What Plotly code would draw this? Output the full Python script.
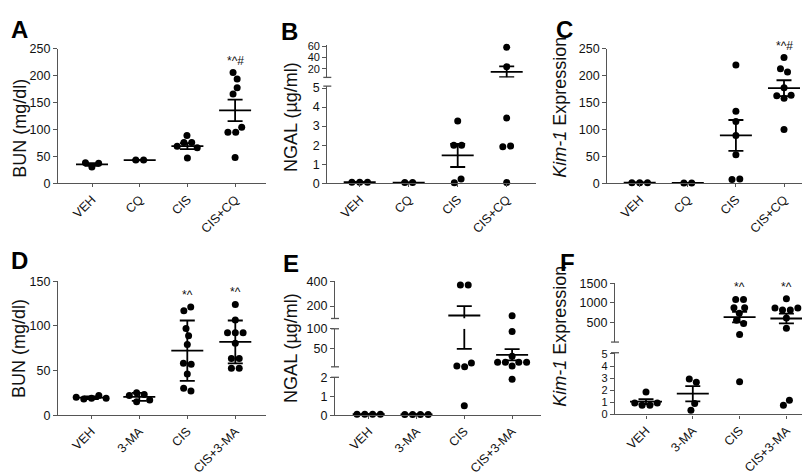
import plotly.graph_objects as go

# ---------------- data ----------------
cats_top = ["VEH", "CQ", "CIS", "CIS+CQ"]
cats_bot = ["VEH", "3-MA", "CIS", "CIS+3-MA"]

# Panel A : BUN (mg/dl)
A_VEH = [30, 38, 37]
A_CQ = [43, 43]
A_CIS = [89, 76, 76, 69, 66, 47]
A_CIS_CQ = [194, 206, 178, 166, 95, 95, 104, 48]
A_mean = [35, 43, 69, 135.5]
A_err = [2.5, 0.5, 5.7, 20]
A_sig = ["", "", "", "*^#"]
A_yticks = [0, 50, 100, 150, 200, 250]

# Panel B : NGAL (µg/ml)
B_VEH = [0.05, 0.05, 0.05]
B_CQ = [0.03, 0.03]
B_CIS = [3.27, 2.0, 2.0, 0.22, 0.02]
B_CIS_CQ = [58, 24, 3.42, 1.95, 1.92, 0.03]
B_mean = [0.05, 0.03, 1.46, 15]
B_err = [0.01, 0.01, 0.61, 9.6]
B_sig = ["", "", "", ""]
B_yticks_low = [0, 1, 2, 3, 4, 5]
B_yticks_high = [20, 40, 60]

# Panel C : Kim-1 expression
C_VEH = [1, 1, 1]
C_CQ = [0.5, 0.5]
C_CIS = [220, 134, 115, 89, 53, 8, 7]
C_CIS_CQ = [234, 207, 213, 178, 158, 163, 164, 100]
C_mean = [1, 0.5, 89, 177]
C_err = [0.1, 0.1, 28.7, 14.7]
C_sig = ["", "", "", "*^#"]
C_yticks = [0, 50, 100, 150, 200, 250]

# Panel D : BUN (mg/dl)
D_VEH = [19, 18, 22, 19, 20]
D_3MA = [25, 22, 23, 15, 17]
D_CIS = [79, 89, 97, 121, 117, 57, 58, 46, 27, 30]
D_CIS_3MA = [124, 106.5, 92.4, 92.4, 92.4, 80.4, 63.4, 63.4, 52.5, 52.5]
D_mean = [19.6, 20.4, 72.2, 82]
D_err = [1.5, 4.5, 33.8, 24]
D_sig = ["", "", "*^", "*^"]
D_yticks = [0, 50, 100, 150]

# Panel E : NGAL (µg/ml)
E_VEH = [0.05, 0.05, 0.05, 0.05]
E_3MA = [0.04, 0.04, 0.04, 0.04]
E_CIS = [369, 369, 2.3, 4, 12, 0.5]
E_CIS_3MA = [29, 4, 14, 14, 14, 14, 93, 122, 1.9]
E_mean = [0.05, 0.04, 124, 33]
E_err = [0.005, 0.005, 76, 14.5]
E_sig = ["", "", "", ""]
E_yticks_low = [0, 1, 2]
E_yticks_mid = [50, 100]
E_yticks_high = [200, 400]

# Panel F : Kim-1 expression
F_VEH = [0.75, 0.75, 0.95, 0.95, 1.85]
F_3MA = [2.66, 2.93, 0.9, 0.35]
F_CIS = [1090, 1090, 740, 880, 880, 560, 480, 200, 2.7]
F_CIS_3MA = [820, 820, 870, 870, 1110, 620, 360, 1.16, 0.76]
F_mean = [1.05, 1.71, 640, 605]
F_err = [0.2, 0.63, 136, 123]
F_sig = ["", "", "*^", "*^"]
F_yticks_low = [0, 1, 2, 3, 4, 5]
F_yticks_high = [500, 1000, 1500]

# ---------------- layout spec (pixel geometry) ----------------
W, H = 810, 475
FONT = "Liberation Sans, Arial, sans-serif"
AXC = "#555555"


def fx(px):
    return px / W


def fy(py):
    return 1 - py / H


# each segment: (range lo, range hi, bottom px, top px, tick values, tick font size)
panels = [
    dict(label="A", cats=cats_top, groups=[A_VEH, A_CQ, A_CIS, A_CIS_CQ],
         mean=A_mean, err=A_err, sig=A_sig, ax=50, xend=258, c0=84, step=47.7,
         segs=[(0, 250, 173.3, 35, A_yticks, 12.5)],
         ytitle="BUN (mg/dl)", tpos=(11.7, 116.5), lpos=(1, 15)),
    dict(label="B", cats=cats_top, groups=[B_VEH, B_CQ, B_CIS, B_CIS_CQ],
         mean=B_mean, err=B_err, sig=B_sig, ax=319.3, xend=528, c0=351.7, step=49,
         segs=[(0, 5.1, 173.3, 73.3, B_yticks_low, 12.5),
               (5.1, 62, 64.3, 31, B_yticks_high, 11)],
         ytitle="NGAL (µg/ml)", tpos=(283, 105), lpos=(271, 16.5)),
    dict(label="C", cats=cats_top, groups=[C_VEH, C_CQ, C_CIS, C_CIS_CQ],
         mean=C_mean, err=C_err, sig=C_sig, ax=599.3, xend=808, c0=631.7, step=48.1,
         segs=[(0, 250, 173.3, 35, C_yticks, 12.5)],
         ytitle="<i>Kim-1</i> Expression", tpos=(552.5, 95), lpos=(546, 15)),
    dict(label="D", cats=cats_bot, groups=[D_VEH, D_3MA, D_CIS, D_CIS_3MA],
         mean=D_mean, err=D_err, sig=D_sig, ax=50, xend=258, c0=83.3, step=48,
         segs=[(0, 150, 412.3, 274.3, D_yticks, 12.5)],
         ytitle="BUN (mg/dl)", tpos=(11.7, 343.5), lpos=(1, 253)),
    dict(label="E", cats=cats_bot, groups=[E_VEH, E_3MA, E_CIS, E_CIS_3MA],
         mean=E_mean, err=E_err, sig=E_sig, ax=327, xend=533, c0=360.7, step=47.8,
         segs=[(0, 2, 412.3, 373.3, E_yticks_low, 12.5),
               (2, 100, 362.5, 323.3, E_yticks_mid, 12.5),
               (100, 400, 312.7, 274.3, E_yticks_high, 12.5)],
         ytitle="NGAL (µg/ml)", tpos=(283.5, 343.5), lpos=(273, 256.5)),
    dict(label="F", cats=cats_bot, groups=[F_VEH, F_3MA, F_CIS, F_CIS_3MA],
         mean=F_mean, err=F_err, sig=F_sig, ax=607, xend=808, c0=638, step=46.8,
         segs=[(0, 5.1, 411.5, 348, F_yticks_low, 11),
               (5.1, 1500, 337, 276.5, F_yticks_high, 12.5)],
         ytitle="<i>Kim-1</i> Expression", tpos=(552.5, 331), lpos=(550, 255)),
]


def seg_index(p, v):
    for k, s in enumerate(p["segs"]):
        if s[0] <= v <= s[1]:
            return k
    return None


def val_px(p, v):
    k = seg_index(p, v)
    lo, hi, pb, pt = p["segs"][k][:4]
    return pb - (v - lo) / (hi - lo) * (pb - pt)


def swarm(p, vals, d=7.8):
    ys = [val_px(p, v) for v in vals]
    xs = []
    for i, y in enumerate(ys):
        cons = []
        for j in range(i):
            dy = abs(y - ys[j])
            if dy < d:
                cons.append((xs[j], (d * d - dy * dy) ** 0.5))
        cands = [0.0]
        for xj, r in cons:
            cands += [xj - r, xj + r]
        ok = [c for c in cands if all(abs(c - xj) >= r - 1e-6 for xj, r in cons)]
        ok.sort(key=lambda c: (round(abs(c), 6), c))
        xs.append(ok[0])
    # centre each connected cluster
    n = len(vals)
    par = list(range(n))

    def find(a):
        while par[a] != a:
            par[a] = par[par[a]]
            a = par[a]
        return a

    for i in range(n):
        for j in range(i):
            if abs(ys[i] - ys[j]) < d:
                par[find(i)] = find(j)
    comps = {}
    for i in range(n):
        comps.setdefault(find(i), []).append(i)
    for g in comps.values():
        m = sum(xs[k] for k in g) / len(g)
        for k in g:
            xs[k] -= m
    return xs


fig = go.Figure()
layout = dict(width=W, height=H, margin=dict(l=0, r=0, t=0, b=0),
              paper_bgcolor="white", plot_bgcolor="rgba(0,0,0,0)",
              showlegend=False, font=dict(family=FONT, color="#111111"))
shapes = []
annotations = []

xi = 0
yi = 0
for p in panels:
    xi += 1
    xid = "x" if xi == 1 else f"x{xi}"
    xname = "xaxis" if xi == 1 else f"xaxis{xi}"
    yaxes = []
    for s in p["segs"]:
        yi += 1
        yaxes.append(("y" if yi == 1 else f"y{yi}", "yaxis" if yi == 1 else f"yaxis{yi}"))

    step = p["step"]
    xr = [(p["ax"] - p["c0"]) / step, (p["xend"] - p["c0"]) / step]
    layout[xname] = dict(
        domain=[fx(p["ax"]), fx(p["xend"])], range=xr, anchor=yaxes[0][0],
        tickmode="array", tickvals=list(range(len(p["cats"]))), ticktext=p["cats"],
        tickangle=-45, ticks="outside", ticklen=3, tickwidth=1.3, tickcolor=AXC,
        showline=True, linecolor=AXC, linewidth=1.3, showgrid=False, zeroline=False,
        tickfont=dict(size=12.5, family=FONT, color="#111111"), fixedrange=True)

    nseg = len(p["segs"])
    for k, s in enumerate(p["segs"]):
        lo, hi, pb, pt, tv, tfs = s
        yid, yname = yaxes[k]
        layout[yname] = dict(
            domain=[fy(pb), fy(pt)], range=[lo, hi], anchor=xid,
            tickmode="array", tickvals=tv, ticks="outside", ticklen=4, tickwidth=1.3,
            tickcolor=AXC, showline=True, linecolor=AXC, linewidth=1.3,
            showgrid=False, zeroline=False,
            tickfont=dict(size=tfs, family=FONT, color="#111111"), fixedrange=True)
        # break marks
        if nseg > 1:
            marks = []
            if k > 0:
                marks.append(pb)
            if k < nseg - 1:
                marks.append(pt)
            for py in marks:
                shapes.append(dict(type="line", xref="paper", yref="paper",
                                   x0=fx(p["ax"] - 4), x1=fx(p["ax"] + 4),
                                   y0=fy(py), y1=fy(py),
                                   line=dict(color=AXC, width=1.3)))

    # points
    offsets = [swarm(p, g) for g in p["groups"]]
    mw = 16 / step
    cw = 7.5 / step
    for k in range(nseg):
        lo, hi = p["segs"][k][0], p["segs"][k][1]
        yid = yaxes[k][0]
        for gi, g in enumerate(p["groups"]):
            xs, ys = [], []
            for v, off in zip(g, offsets[gi]):
                if seg_index(p, v) == k:
                    xs.append(gi + off / step)
                    ys.append(v)
            if xs:
                fig.add_trace(go.Scatter(
                    x=xs, y=ys, xaxis=xid, yaxis=yid, mode="markers",
                    marker=dict(size=7, color="black", line=dict(width=0)),
                    cliponaxis=False, hoverinfo="skip", showlegend=False))
        # mean and error bars, restricted to this axis segment
        ex, ey = [], []
        for gi, (m, e) in enumerate(zip(p["mean"], p["err"])):
            a, b = max(m - e, lo), min(m + e, hi)
            if a < b:
                ex += [gi, gi, None]
                ey += [a, b, None]
            for yv, hw in ((m + e, cw), (m - e, cw), (m, mw)):
                if lo <= yv <= hi:
                    ex += [gi - hw, gi + hw, None]
                    ey += [yv, yv, None]
        if ex:
            fig.add_trace(go.Scatter(
                x=ex, y=ey, xaxis=xid, yaxis=yid, mode="lines",
                line=dict(color="black", width=1.8), hoverinfo="skip", showlegend=False))

    # significance marks
    for gi, t in enumerate(p["sig"]):
        if t:
            vmax = max(p["groups"][gi])
            k = seg_index(p, vmax)
            annotations.append(dict(
                x=gi, y=vmax, xref=xid, yref=yaxes[k][0], text=t, showarrow=False,
                yshift=12, xanchor="center", yanchor="middle",
                font=dict(size=12, family=FONT, color="#111111")))

    # y title
    annotations.append(dict(
        x=fx(p["tpos"][0]), y=fy(p["tpos"][1]), xref="paper", yref="paper",
        text=p["ytitle"], textangle=-90, showarrow=False,
        xanchor="center", yanchor="middle",
        font=dict(size=18, family=FONT, color="#111111")))
    # panel letter
    annotations.append(dict(
        x=fx(p["lpos"][0]), y=fy(p["lpos"][1]), xref="paper", yref="paper",
        text="<b>" + p["label"] + "</b>", showarrow=False,
        xanchor="left", yanchor="middle",
        font=dict(size=24, family=FONT, color="black")))

layout["shapes"] = shapes
layout["annotations"] = annotations
fig.update_layout(**layout)
fig.write_html("out.html")
